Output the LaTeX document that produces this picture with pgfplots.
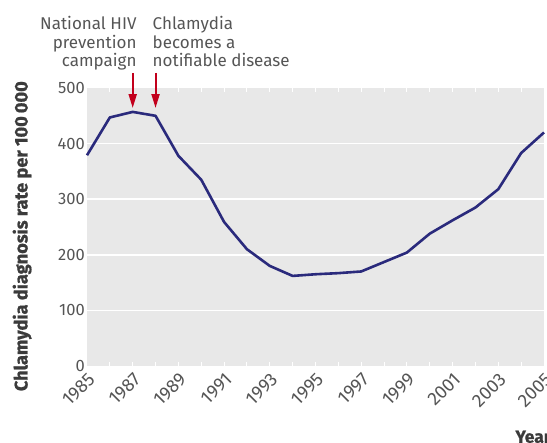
\documentclass[border=0pt]{standalone}
\usepackage{pgfplots}
\pgfplotsset{compat=1.18}
\usepackage{fontspec}
\setmainfont{Fira Sans}
\newfontfamily\heavy[FakeBold=1]{Fira Sans}
\usetikzlibrary{calc,arrows.meta}
\definecolor{bg}{HTML}{E8E8E8}
\definecolor{navy}{HTML}{2A2A7C}
\definecolor{arrowred}{HTML}{C2001C}
\definecolor{txt}{HTML}{555555}
\begin{document}
\begin{tikzpicture}
\begin{axis}[
  name=ax,
  scale only axis, width=457bp, height=278bp,
  xmin=1985, xmax=2005, ymin=0, ymax=500,
  clip=false,
  axis background/.style={fill=bg},
  axis line style={draw=none},
  ytick={100,200,300,400},
  extra y ticks={0,500},
  extra y tick style={grid=none},
  ymajorgrids,
  grid style={white, line width=1.6bp},
  ytick style={draw=none},
  xtick={1985,1987,...,2005},
  minor xtick={1986,1988,...,2004},
  xtick style={white, line width=1bp},
  major tick length=4bp, minor tick length=4bp,
  tick align=inside,
  /pgf/number format/assume math mode=true,
  /pgf/number format/1000 sep={},
  ticklabel style={font=\fontsize{16.5bp}{18bp}\selectfont, text=txt},
  xticklabel style={font=\fontsize{18.5bp}{20bp}\selectfont, xshift=0bp, yshift=-4bp, rotate=45, anchor=north east, inner sep=1bp},
  yticklabel style={inner sep=2bp},
  ylabel={\heavy\bfseries Chlamydia diagnosis rate per 100\,000},
  ylabel style={at={(axis description cs:-0.142,0.467)}, anchor=center, font=\fontsize{18.2bp}{20bp}\selectfont, text=txt!70!black},
  xlabel={\heavy\bfseries Year},
  xlabel style={at={(axis description cs:0.93,-0.255)}, anchor=west, font=\fontsize{17.5bp}{19bp}\selectfont, text=txt!70!black},
]
\addplot[navy, line width=2.6bp, line join=round] coordinates {
(1985,379) (1986,447) (1987,457) (1988,450) (1989,378) (1990,335)
(1991,259) (1992,210) (1993,180) (1994,162) (1995,165) (1996,167)
(1997,170) (1998,187) (1999,204) (2000,238) (2001,262) (2002,285)
(2003,318) (2004,383) (2005,420)
};
\draw[arrowred, line width=2bp, -{Triangle[width=8bp,length=14bp]}] (axis cs:1987,527) -- (axis cs:1987,464);
\draw[arrowred, line width=2bp, -{Triangle[width=8bp,length=14bp]}] (axis cs:1988,527) -- (axis cs:1988,464);
\node[anchor=north east, align=right, inner sep=0pt, text=txt, font=\fontsize{17bp}{18.7bp}\selectfont, xshift=4bp] at (axis cs:1987,629.5) {National HIV\\prevention\\campaign};
\node[anchor=north west, align=left, inner sep=0pt, text=txt, font=\fontsize{17bp}{18.7bp}\selectfont, xshift=-3bp] at (axis cs:1988,629.5) {Chlamydia\\becomes a\\notifiable disease};
\end{axis}
\pgfresetboundingbox
\path[use as bounding box] ($(ax.south west)+(-87bp,-77bp)$) rectangle ($(ax.north east)+(3bp,88bp)$);
\end{tikzpicture}
\end{document}
